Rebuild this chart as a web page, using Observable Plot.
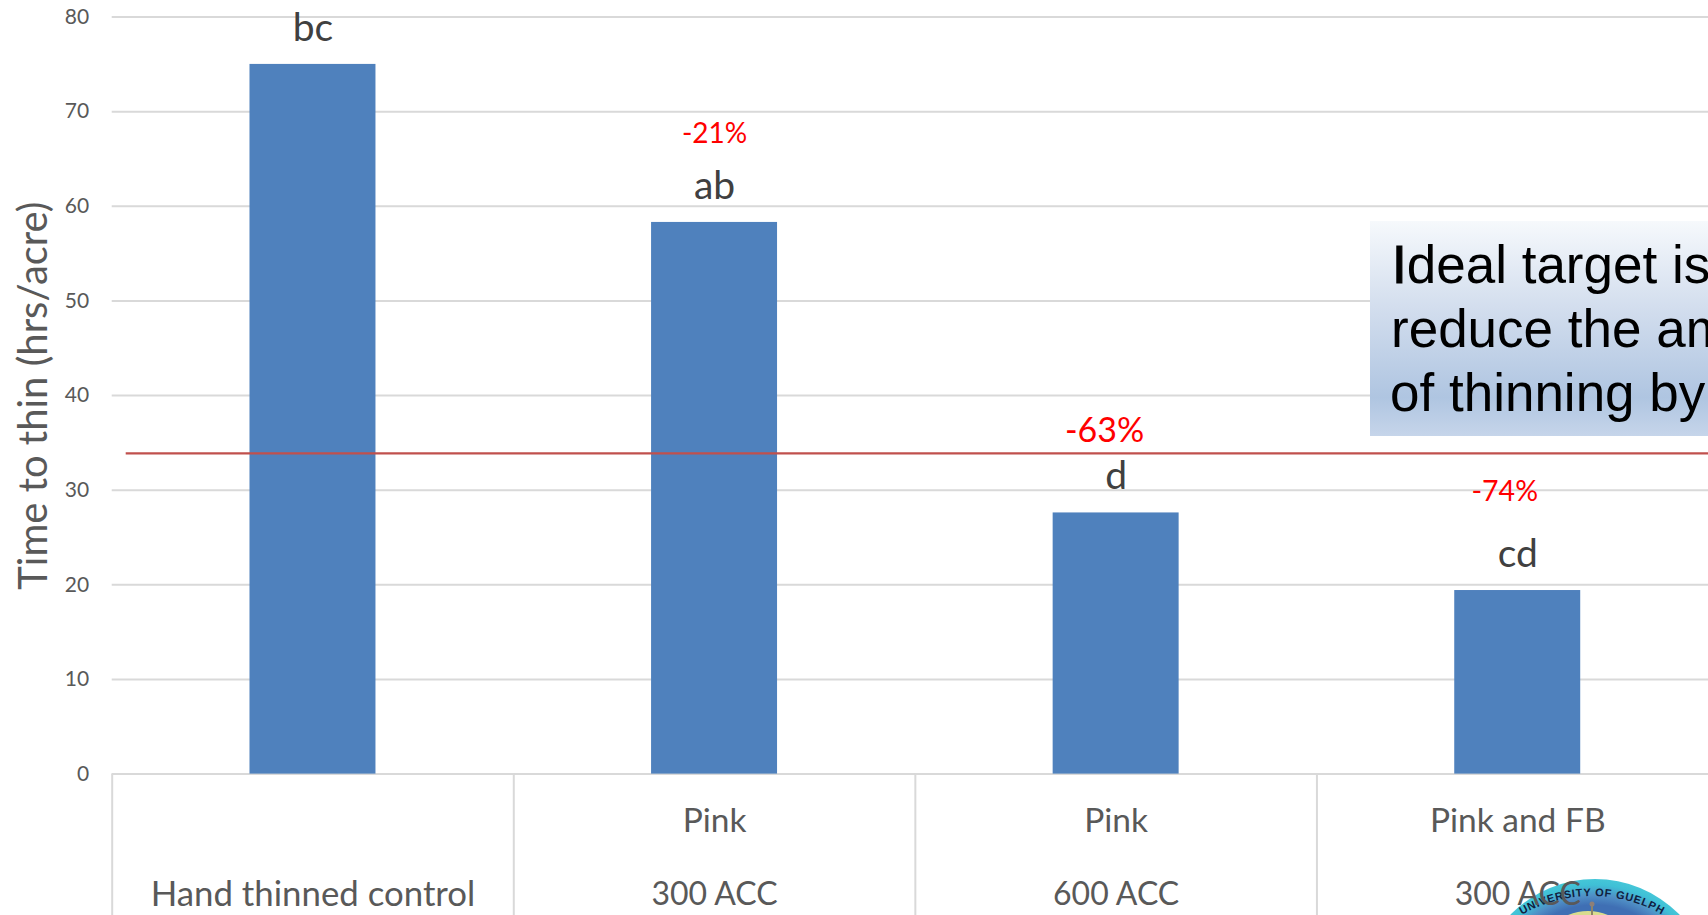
<!DOCTYPE html>
<html>
<head>
<meta charset="utf-8">
<script src="https://cdn.jsdelivr.net/npm/d3@7"></script>
<script src="https://cdn.jsdelivr.net/npm/@observablehq/plot@0.6"></script>
<style>
  html, body { margin: 0; padding: 0; background: #fff; overflow: hidden; }
  svg { display: block; }
</style>
</head>
<body>
<div id="chart"></div>
<script>
// Treatments and thinning time
const treatments = ["Hand thinned control", "Pink 300 ACC", "Pink 600 ACC", "Pink and FB 300 ACC"];
const hoursPerAcre = [75.0, 58.3, 27.6, 19.4];
const letters = ["bc", "ab", "d", "cd"];
const bloomLabels = ["", "Pink", "Pink", "Pink and FB"];
const rateLabels = ["", "300 ACC", "600 ACC", "300 ACC"];
const controlLabel = "Hand thinned control";
const reductions = ["", "-21%", "-63%", "-74%"];
const yTicks = [0, 10, 20, 30, 40, 50, 60, 70, 80];
const targetHours = 33.9;
const calloutLines = ["deal target is", "reduce the amount", "of thinning by"];

const rows = treatments.map((name, i) => ({
  name, hours: hoursPerAcre[i], letter: letters[i],
  bloom: bloomLabels[i], rate: rateLabels[i], reduction: reductions[i]
}));

const font = "Lato, Carlito, sans-serif";
const step = (1718 - 111.7) / treatments.length;

// Callout with a vertical blue fade; it runs off the right-hand edge
function callout() {
  const g = d3.create("svg:g");
  const grad = g.append("linearGradient").attr("id", "calloutFill")
    .attr("x1", 0).attr("x2", 0).attr("y1", 0).attr("y2", 1);
  [[0, "#f6f9fc"], [0.4, "#d3deee"], [0.82, "#afc5e1"], [1, "#c6d5ea"]].forEach(([o, c]) =>
    grad.append("stop").attr("offset", o).attr("stop-color", c));
  g.append("rect").attr("x", 1370).attr("y", 221).attr("width", 360).attr("height", 215)
    .attr("fill", "url(#calloutFill)");
  const t = g.append("g").attr("font-family", "'Liberation Sans', Arial, sans-serif")
    .attr("font-size", 53).attr("fill", "#000").attr("text-anchor", "start");
  const first = t.append("text").attr("x", 1392).attr("y", 283);
  first.append("tspan").attr("stroke", "#000").attr("stroke-width", 1.2).text("I");
  first.append("tspan").text(calloutLines[0]);
  t.append("text").attr("x", 1391).attr("y", 347).text(calloutLines[1]);
  t.append("text").attr("x", 1390).attr("y", 411).text(calloutLines[2]);
  return g.node();
}

// University crest, only its top edge shows at the bottom of the page
function crest() {
  const g = d3.create("svg:g");
  const cx = 1595, cy = 997;
  const ring = g.append("radialGradient").attr("id", "crestRing")
    .attr("gradientUnits", "userSpaceOnUse")
    .attr("cx", cx).attr("cy", cy).attr("r", 118);
  [[0.78, "#3f6fb4"], [0.86, "#4f8fc6"], [0.95, "#3fc0d6"], [1, "#45c6d8"]].forEach(([o, c]) =>
    ring.append("stop").attr("offset", o).attr("stop-color", c));
  g.append("circle").attr("cx", cx).attr("cy", cy).attr("r", 118).attr("fill", "url(#crestRing)");
  g.append("circle").attr("cx", 1588).attr("cy", 963).attr("r", 52).attr("fill", "#d9dc8e");
  g.append("line").attr("x1", 1592).attr("x2", 1592).attr("y1", 905).attr("y2", 915)
    .attr("stroke", "#8d8468").attr("stroke-width", 2);
  g.append("circle").attr("cx", 1592).attr("cy", 904).attr("r", 2.5).attr("fill", "#8d7f78");
  g.append("path").attr("id", "crestArc").attr("fill", "none")
    .attr("d", "M 1452 1036 A 140 140 0 0 1 1732 1036");
  g.append("text").attr("font-family", "'Liberation Sans', Arial, sans-serif")
    .attr("font-weight", "bold").attr("font-size", 11).attr("letter-spacing", 0.7).attr("fill", "#10203f")
    .append("textPath").attr("href", "#crestArc").attr("startOffset", "50%")
    .attr("text-anchor", "middle").text("UNIVERSITY OF GUELPH");
  return g.node();
}

const chart = Plot.plot({
  width: 1708,
  height: 915,
  marginTop: 16.6,
  marginBottom: 141.4,
  marginLeft: 111.7,
  marginRight: -10,
  style: { fontFamily: font, background: "#fff", overflow: "hidden" },
  x: { type: "band", domain: treatments, paddingInner: 0.6863, paddingOuter: 0.3431, align: 0.5, round: false, axis: null },
  y: { domain: [0, 80], axis: null },
  marks: [
    Plot.ruleY(yTicks, { stroke: "#d9d9d9", strokeWidth: 2 }),
    Plot.axisY({
      ticks: yTicks, tickSize: 0, tickPadding: 23, label: null,
      fontSize: 21, fill: "#595959"
    }),
    Plot.text(["Time to thin (hrs/acre)"], {
      frameAnchor: "left", textAnchor: "middle", rotate: -90, dx: -78, fontSize: 40, fill: "#595959"
    }),
    Plot.ruleX(treatments, { x: d => d, y1: () => 0, y2: () => -16, dx: -step / 2, stroke: "#d9d9d9", strokeWidth: 2 }),
    Plot.barY(rows, { x: "name", y: "hours", fill: "#4f81bd" }),
    Plot.ruleY([targetHours], { stroke: "#c0504d", strokeWidth: 2.2, insetLeft: 14 }),
    callout,
    crest,
    Plot.text(rows, { x: "name", y: "hours", text: "letter", dy: -36, fontSize: 39, fill: "#404040" }),
    Plot.text(rows.filter(d => d.reduction === "-21%"), { x: "name", y: "hours", text: "reduction", dy: -88, fontSize: 28, fill: "#ff0000" }),
    Plot.text(rows.filter(d => d.reduction === "-63%"), { x: "name", y: "hours", text: "reduction", dy: -82, dx: -11.5, fontSize: 34, fill: "#ff0000" }),
    Plot.text(rows.filter(d => d.reduction === "-74%"), { x: "name", y: "hours", text: "reduction", dy: -99, dx: -13, fontSize: 28.5, fill: "#ff0000" }),
    Plot.text(rows, { x: "name", y: () => 0, text: "bloom", dy: 47.5, fontSize: 33.5, fill: "#595959" }),
    Plot.text(rows, { x: "name", y: () => 0, text: "rate", dy: 120.5, fontSize: 32, fill: "#595959" }),
    Plot.text([controlLabel], { x: () => treatments[0], y: () => 0, dy: 120.5, fontSize: 34.8, fill: "#595959" })
  ]
});

document.getElementById("chart").appendChild(chart);
</script>
</body>
</html>
